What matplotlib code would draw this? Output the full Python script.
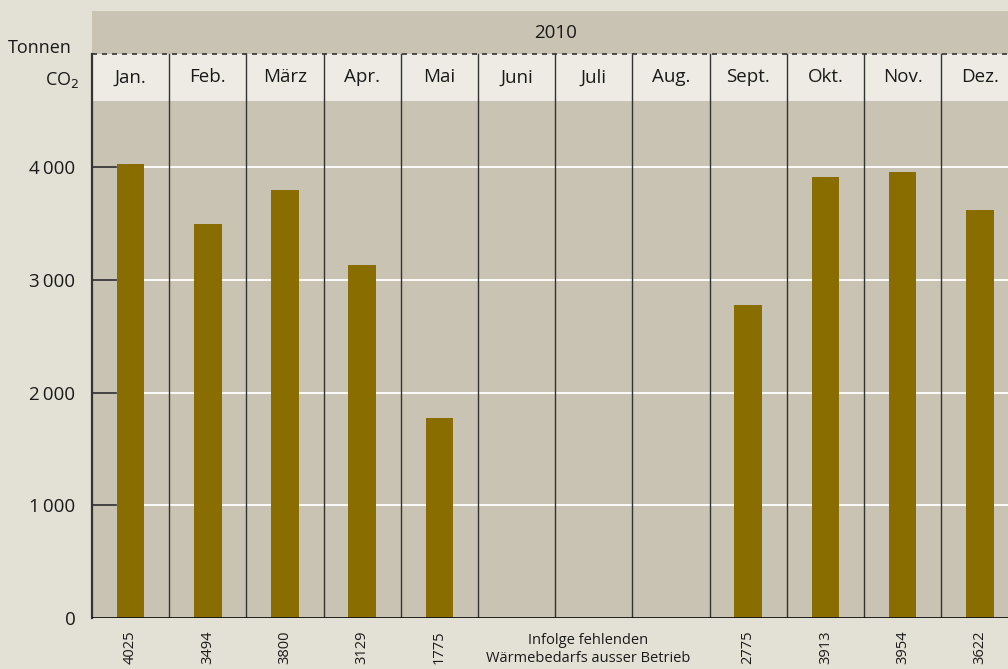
import matplotlib
matplotlib.use("Agg")
import matplotlib.pyplot as plt
import numpy as np

months = ["Jan.", "Feb.", "März", "Apr.", "Mai", "Juni", "Juli", "Aug.", "Sept.", "Okt.", "Nov.", "Dez."]
values = [4025, 3494, 3800, 3129, 1775, None, None, None, 2775, 3913, 3954, 3622]
year_label = "2010"
yticks = [0, 1000, 2000, 3000, 4000]
ytick_labels = ["0", "1\u2009000", "2\u2009000", "3\u2009000", "4\u2009000"]
note = "Infolge fehlenden\nWärmebedarfs ausser Betrieb"

plt.rcParams['font.family'] = ['Open Sans', 'DejaVu Sans']

BG = "#E3E0D6"
PLOT = "#C9C3B3"
HEAD = "#EDEBE3"
BAR = "#8A6D00"
DARK = "#333333"
TXT = "#1a1a1a"

W, H = 1008, 669
fig = plt.figure(figsize=(W / 100, H / 100), dpi=100)
fig.patch.set_facecolor(BG)

left, right_px, top_px, bottom_px = 92, 1008, 11, 618
ax = fig.add_axes([left / W, (H - bottom_px) / H, (right_px - left) / W, (bottom_px - top_px) / H])
ax.set_facecolor(PLOT)

px_per_unit = (618 - 167) / 4000.0
ymax = (bottom_px - top_px) / px_per_unit
y_data_top = (618 - 101) / px_per_unit
y_head_top = (618 - 54) / px_per_unit

month_w = 77.2
xmax = (right_px - left) / month_w - 0.5
ax.set_xlim(-0.5, xmax)
ax.set_ylim(0, ymax)

# header bands
ax.axhspan(y_data_top, y_head_top, color=HEAD, zorder=1, lw=0)
ax.axhspan(y_head_top, ymax, color=PLOT, zorder=1, lw=0)
ax.axhline(y_head_top, color=DARK, lw=1.2, ls=(0, (3, 3)), zorder=3)

# gridlines
for t in yticks[1:]:
    ax.axhline(t, color="white", lw=1.3, zorder=2)

for i, v in enumerate(values):
    if v is not None:
        ax.bar(i, v, width=0.36, color=BAR, zorder=4)

# dividers
for b in np.arange(len(months) - 1) + 0.5:
    ax.plot([b, b], [0, y_head_top], color=DARK, lw=1.0, zorder=5)
ax.plot([-0.5, -0.5], [0, y_head_top], color=DARK, lw=1.6, zorder=5, clip_on=False)

# month labels
for i, m in enumerate(months):
    ax.text(i, (y_data_top + y_head_top) / 2, m, ha="center", va="center", fontsize=13.5, color=TXT, zorder=6)
ax.text(5.5, (y_head_top + ymax) / 2, year_label, ha="center", va="center", fontsize=13.5, color=TXT, zorder=6)

for s in ax.spines.values():
    s.set_visible(False)
ax.axhline(0, color="#111111", lw=2, zorder=6)

ax.set_xticks([])
ax.set_yticks(yticks)
ax.set_yticklabels(ytick_labels, fontsize=13.5, color=TXT)
ax.tick_params(axis="y", length=0, pad=12)

# inner ticks at y gridlines on left
for t in yticks[1:]:
    ax.plot([-0.5, -0.19], [t, t], color=DARK, lw=1.3, zorder=5)

# value labels below
for i, v in enumerate(values):
    if v is not None:
        ax.annotate(str(v), xy=(i, 0), xytext=(0, -9), textcoords="offset points",
                    rotation=90, ha="center", va="top", fontsize=10.5, color=TXT,
                    annotation_clip=False)
ax.annotate(note, xy=(5.93, 0), xytext=(0, -11), textcoords="offset points",
            ha="center", va="top", fontsize=10.5, color=TXT, linespacing=1.25,
            annotation_clip=False)

fig.text(72 / W, 1 - 48 / H, "Tonnen", ha="right", va="center", fontsize=13, color=TXT)
fig.text(79 / W, 1 - 80 / H, "CO$_2$", ha="right", va="center", fontsize=13, color=TXT)

fig.savefig("out.png", dpi=100, facecolor=BG)
